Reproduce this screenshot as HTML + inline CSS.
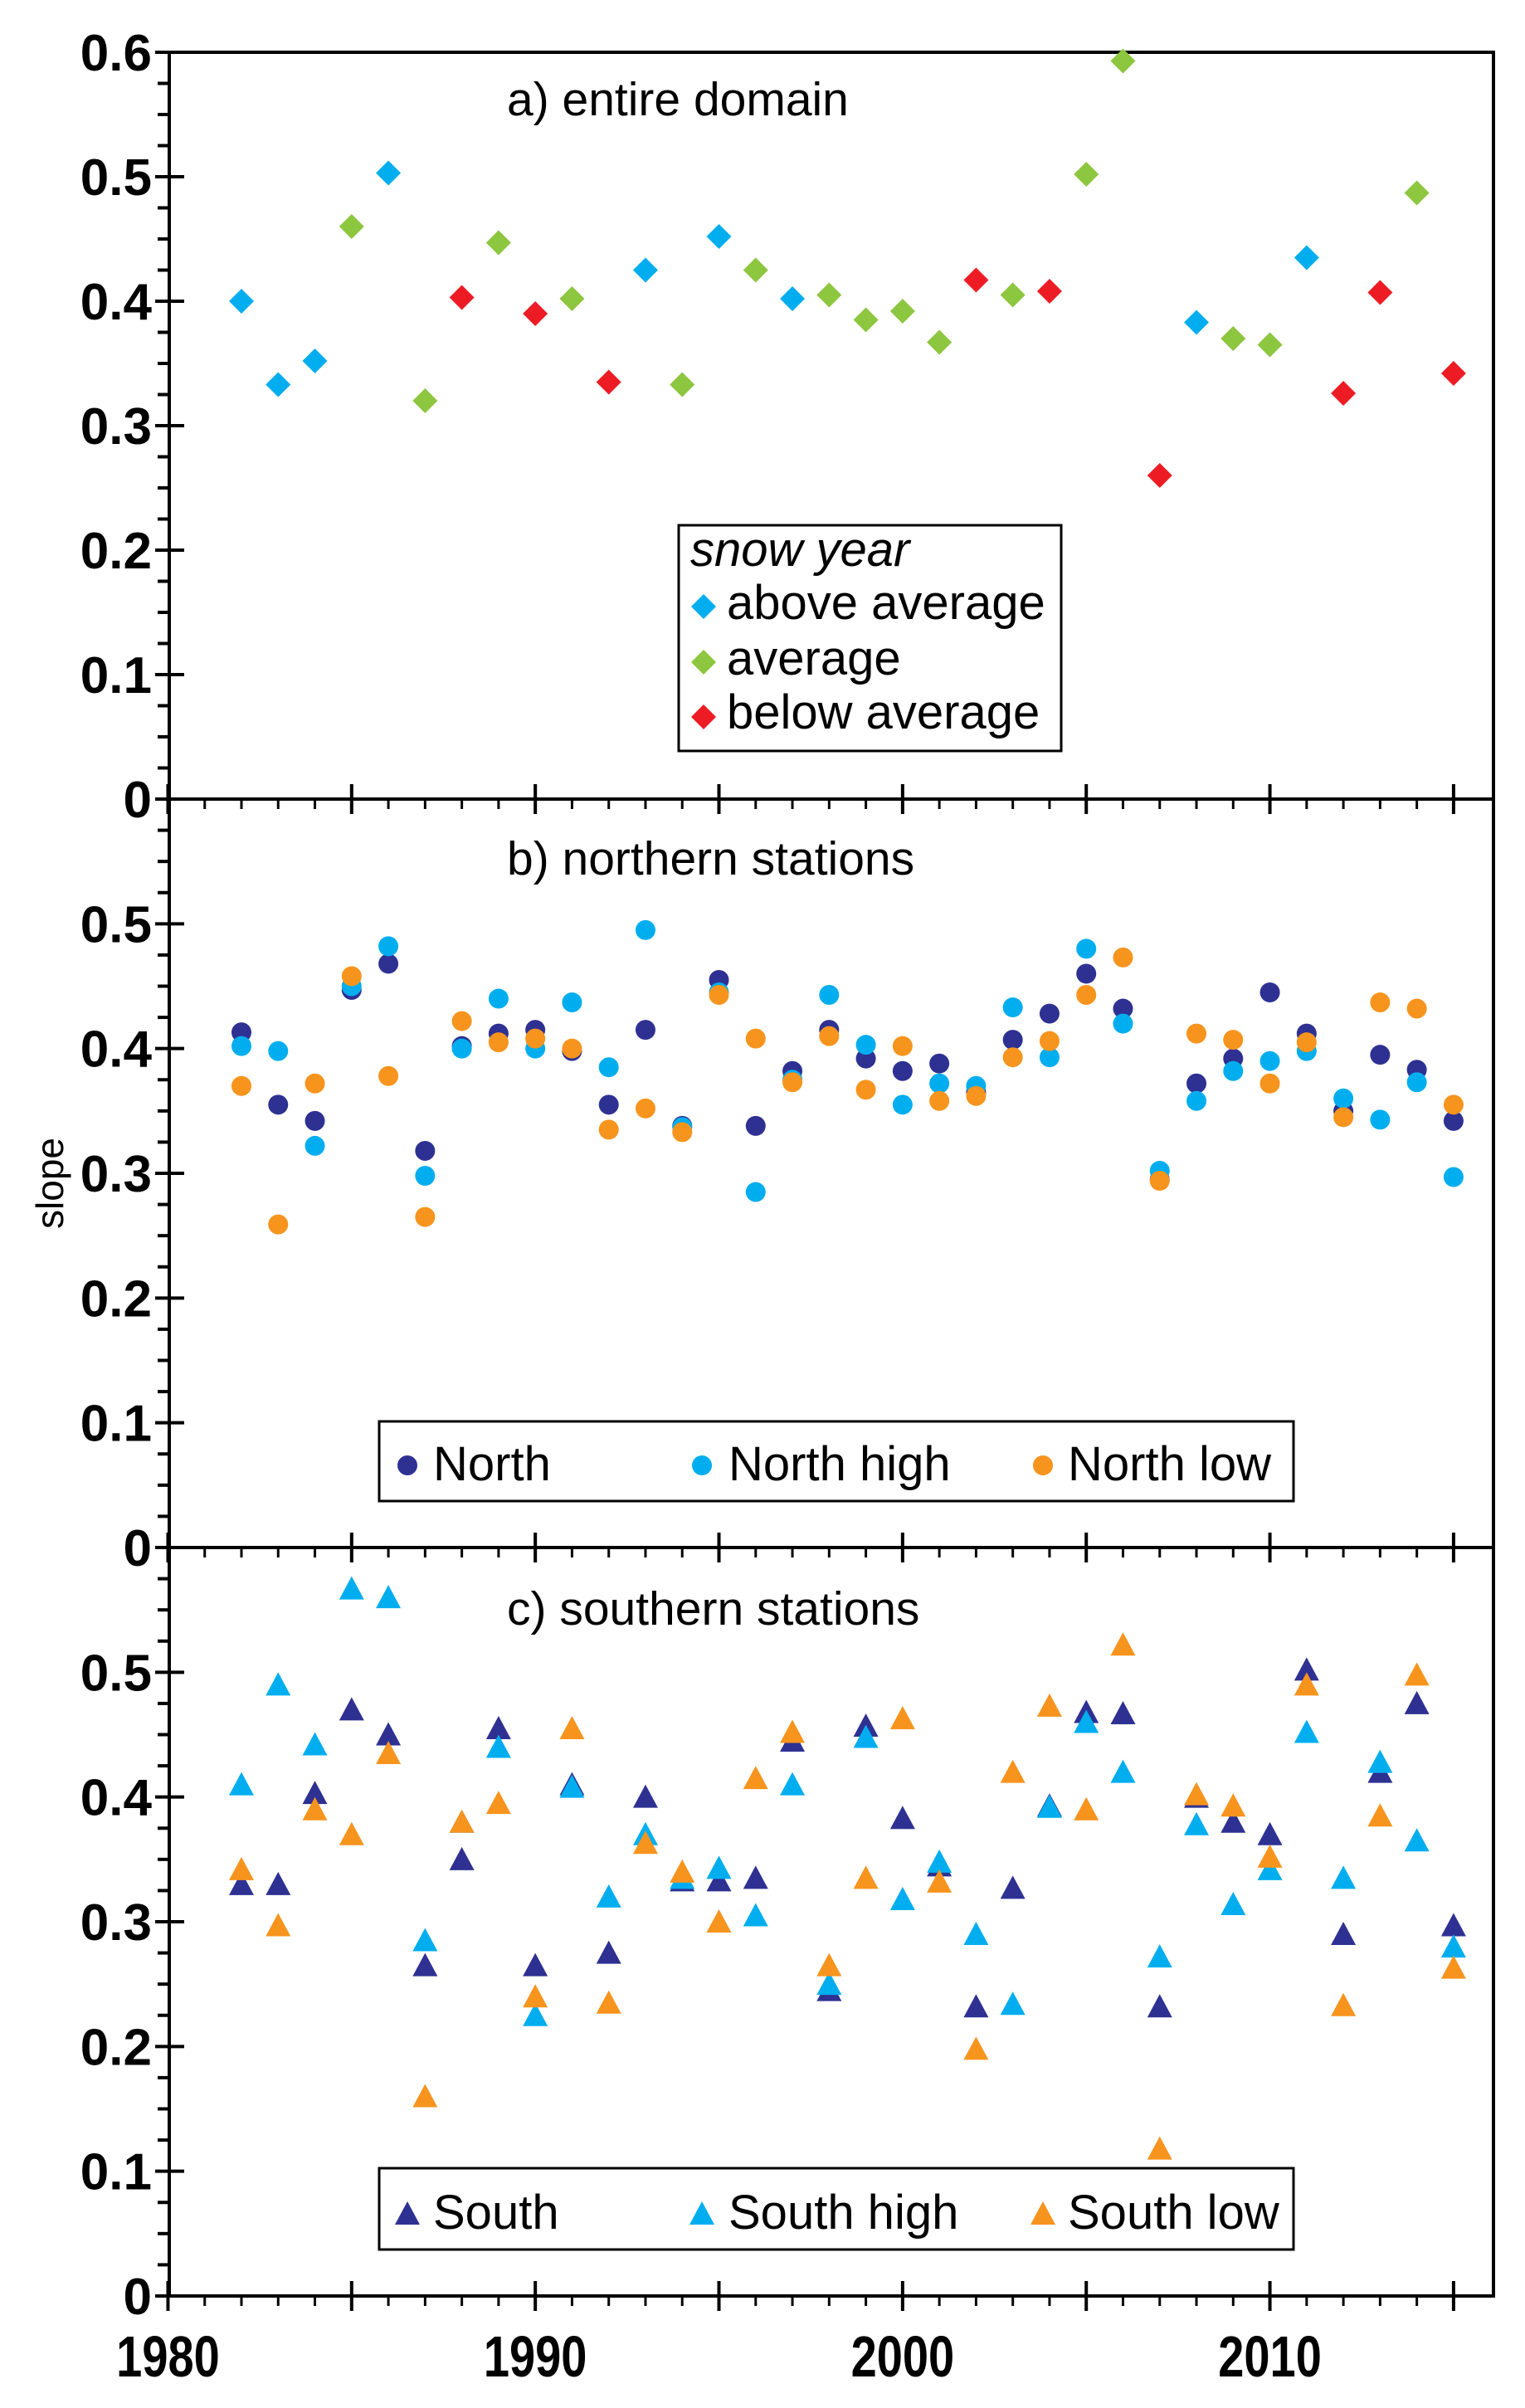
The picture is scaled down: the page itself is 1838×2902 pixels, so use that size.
<!DOCTYPE html>
<html><head><meta charset="utf-8"><style>
html,body{margin:0;padding:0;background:#fff}
svg{display:block}
text{font-family:"Liberation Sans",Arial,sans-serif;fill:#000}
.tk{font-weight:bold;font-size:62px}
.yr{font-weight:bold;font-size:70px}
.tt{font-size:57px}
.lg{font-size:58px}
</style></head><body>
<svg id="s" width="1838" height="2902" viewBox="0 0 1838 2902" xmlns="http://www.w3.org/2000/svg">
<rect width="1838" height="2902" fill="#fff"/>
<text class="tt" x="611" y="139">a) entire domain</text>
<text class="tt" x="611" y="1054">b) northern stations</text>
<text class="tt" x="611" y="1958">c) southern stations</text>
<text class="tt" x="0" y="0" transform="translate(76,1426) rotate(-90)" text-anchor="middle" style="font-size:46px">slope</text>
<rect x="818" y="633" width="461" height="272" fill="#fff" stroke="#000" stroke-width="3"/>
<text class="lg" x="832" y="682" font-style="italic">snow year</text>
<text class="lg" x="876" y="746">above average</text>
<text class="lg" x="876" y="813">average</text>
<text class="lg" x="876" y="878">below average</text>
<rect x="457" y="1713" width="1102" height="96" fill="#fff" stroke="#000" stroke-width="3"/>
<text class="lg" x="522" y="1784">North</text>
<text class="lg" x="878" y="1784">North high</text>
<text class="lg" x="1287" y="1784">North low</text>
<rect x="457" y="2613" width="1102" height="98" fill="#fff" stroke="#000" stroke-width="3"/>
<text class="lg" x="522" y="2686">South</text>
<text class="lg" x="878" y="2686">South high</text>
<text class="lg" x="1287" y="2686">South low</text>
</svg>
<script>
var s=document.getElementById('s'),h='';
function X(y){return 291+44.27*(y-1982);}
var L=204,R=1800,tops=[63,963,1865],bots=[963,1865,2767];
h+='<rect x="'+L+'" y="63" width="'+(R-L)+'" height="2704" fill="none" stroke="#000" stroke-width="4"/>';
h+='<line x1="'+L+'" y1="963" x2="'+R+'" y2="963" stroke="#000" stroke-width="4"/>';
h+='<line x1="'+L+'" y1="1865" x2="'+R+'" y2="1865" stroke="#000" stroke-width="4"/>';
for(var p=0;p<3;p++){var b=bots[p],t=tops[p],sc=(b-t)/0.6;
 for(var k=0;k<=24;k++){var y=b-k*0.025*sc;if(p>0&&k==24)continue;
  if(k%4==0){h+='<line x1="187" y1="'+y+'" x2="222" y2="'+y+'" stroke="#000" stroke-width="4"/>';
   var lab=k==0?'0':'0.'+(k/4);h+='<text class="tk" x="183" y="'+(y+22)+'" text-anchor="end">'+lab+'</text>';}
  else h+='<line x1="190" y1="'+y+'" x2="'+L+'" y2="'+y+'" stroke="#000" stroke-width="4"/>';}
 for(var yr=1980;yr<=2015;yr++){var x=X(yr);
  if(yr%5==0)h+='<line x1="'+x+'" y1="'+(b-18)+'" x2="'+x+'" y2="'+(b+18)+'" stroke="#000" stroke-width="4"/>';
  else h+='<line x1="'+x+'" y1="'+b+'" x2="'+x+'" y2="'+(b+12)+'" stroke="#000" stroke-width="3"/>';}}
[1980,1990,2000,2010].forEach(function(yr){var x=X(yr);
 h+='<text class="yr" x="0" y="0" text-anchor="middle" transform="translate('+x+',2864) scale(0.8,1)">'+yr+'</text>';});
var BL='#00aeef',GR='#8dc63f',RD='#ed1c24',NV='#2e3192',OR='#f7941d';
function dia(x,y,c){return '<path d="M'+x+' '+(y-15)+'L'+(x+15)+' '+y+'L'+x+' '+(y+15)+'L'+(x-15)+' '+y+'Z" fill="'+c+'"/>';}
function cir(x,y,c){return '<circle cx="'+x+'" cy="'+y+'" r="12" fill="'+c+'"/>';}
function tri(x,y,c){return '<path d="M'+x+' '+(y-15)+'L'+(x+15)+' '+(y+13)+'L'+(x-15)+' '+(y+13)+'Z" fill="'+c+'"/>';}
var a=[[.40,'B'],[.333,'B'],[.352,'B'],[.46,'G'],[.503,'B'],[.32,'G'],[.403,'R'],[.447,'G'],[.39,'R'],[.402,'G'],[.335,'R'],[.425,'B'],[.333,'G'],[.452,'B'],[.425,'G'],[.402,'B'],[.405,'G'],[.385,'G'],[.392,'G'],[.367,'G'],[.417,'R'],[.405,'G'],[.408,'R'],[.502,'G'],[.593,'G'],[.26,'R'],[.383,'B'],[.37,'G'],[.365,'G'],[.435,'B'],[.326,'R'],[.407,'R'],[.487,'G'],[.342,'R']];
var cm={B:BL,G:GR,R:RD};
function Y(p,v){return bots[p]-v*(bots[p]-tops[p])/0.6;}
a.forEach(function(d,i){h+=dia(X(1982+i),Y(0,d[0]),cm[d[1]]);});
var N=[.413,.355,.342,.447,.468,.318,.402,.412,.415,.398,.355,.415,.338,.455,.338,.382,.415,.392,.382,.388,.365,.407,.428,.46,.432,.295,.372,.392,.445,.412,.35,.395,.383,.342];
var NH=[.402,.398,.322,.45,.482,.298,.40,.44,.40,.437,.385,.495,.337,.445,.285,.375,.443,.403,.355,.372,.37,.433,.393,.48,.42,.302,.358,.382,.39,.398,.36,.343,.373,.297];
var NL=[.37,.259,.372,.458,.378,.265,.422,.405,.408,.40,.335,.352,.333,.443,.408,.373,.41,.367,.402,.358,.362,.393,.406,.443,.473,.294,.412,.407,.372,.405,.345,.437,.432,.355];
var S=[.33,.33,.403,.47,.45,.265,.35,.455,.265,.41,.275,.40,.333,.333,.335,.445,.245,.457,.383,.345,.232,.327,.393,.468,.467,.232,.40,.38,.37,.502,.29,.42,.475,.297];
var SH=[.41,.49,.442,.567,.56,.285,.38,.44,.225,.408,.32,.37,.335,.343,.305,.41,.25,.448,.318,.348,.29,.234,.392,.46,.42,.272,.378,.314,.342,.452,.335,.428,.365,.28];
var SL=[.342,.297,.39,.37,.435,.16,.38,.395,.24,.455,.235,.363,.34,.30,.415,.452,.265,.335,.463,.332,.198,.42,.473,.39,.522,.118,.402,.393,.352,.49,.233,.385,.498,.263];
[[N,NV],[NH,BL],[NL,OR]].forEach(function(q){q[0].forEach(function(v,i){h+=cir(X(1982+i),Y(1,v),q[1]);});});
[[S,NV],[SH,BL],[SL,OR]].forEach(function(q){q[0].forEach(function(v,i){h+=tri(X(1982+i),Y(2,v),q[1]);});});
h+=dia(848,731,BL)+dia(848,798,GR)+dia(848,864,RD);
h+=cir(491,1766,NV)+cir(846,1766,BL)+cir(1257,1766,OR);
h+=tri(491,2668,NV)+tri(846,2668,BL)+tri(1257,2668,OR);
s.insertAdjacentHTML('beforeend',h);
</script>
</body></html>
